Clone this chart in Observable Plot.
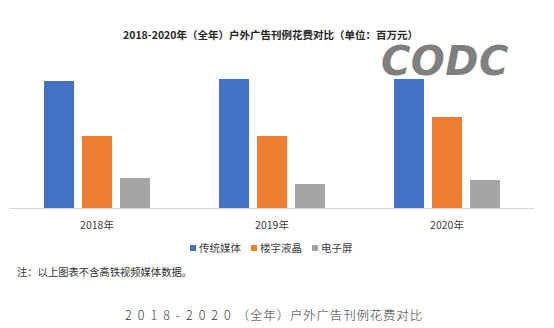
<!DOCTYPE html>
<html>
<head>
<meta charset="utf-8">
<script src="https://cdn.jsdelivr.net/npm/d3@7"></script>
<script src="https://cdn.jsdelivr.net/npm/@observablehq/plot@0.6"></script>
<style>
  body { margin: 0; background: #fff; }
  #wrap { position: relative; width: 554px; height: 328px; overflow: hidden; font-family: "Noto Sans CJK SC", "Noto Sans", sans-serif; }
  #chart { position: absolute; left: 0; top: 0; }
  .abs { position: absolute; white-space: nowrap; }
  #title { left: 0; width: 541px; top: 27px; text-align: center; font-size: 10.5px; font-weight: bold; color: #262626; }
  #logo { left: 381px; top: 41px; font-family: "DejaVu Sans", sans-serif; font-weight: bold; font-style: italic; font-size: 40px; color: #7f7f7f; letter-spacing: 0.5px; line-height: 1; }
  #legend { left: 190px; top: 240px; font-size: 10.5px; color: #404040; display: flex; align-items: center; }
  #legend span.sw { display: inline-block; width: 6px; height: 6px; margin-right: 3px; }
  #legend span.it { display: inline-flex; align-items: center; margin-right: 10px; }
  #note { left: 17px; top: 264px; font-size: 10.3px; color: #333; }
  #caption { left: 0; width: 548px; top: 305px; text-align: center; font-size: 12.5px; color: #3a3a3a; font-weight: 300; }
  #caption .d { letter-spacing: 6px; }
  #caption .c { letter-spacing: 0.8px; }
</style>
</head>
<body>
<div id="wrap">
  <div id="chart"></div>
  <div id="title" class="abs"></div>
  <div id="logo" class="abs">CODC</div>
  <div id="legend" class="abs"></div>
  <div id="note" class="abs"></div>
  <div id="caption" class="abs"></div>
</div>
<script>
const years = ["2018年", "2019年", "2020年"];
const seriesNames = ["传统媒体", "楼宇液晶", "电子屏"];
const traditional = [127, 129, 129];
const buildingLCD = [72, 72, 91];
const screens = [30, 24, 28];
const colors = ["#4472C4", "#ED7D31", "#A5A5A5"];
const titleText = "2018-2020年（全年）户外广告刊例花费对比（单位：百万元）";
const noteText = "注：以上图表不含高铁视频媒体数据。";
const captionDigits = "2018-2020";
const captionRest = "（全年）户外广告刊例花费对比";

const seriesValues = [traditional, buildingLCD, screens];
const data = [];
years.forEach((y, i) => {
  seriesNames.forEach((s, j) => {
    data.push({year: y, series: s, value: seriesValues[j][i]});
  });
});

const chart = Plot.plot({
  width: 554,
  height: 240,
  marginLeft: 8,
  marginRight: 19,
  marginTop: 68,
  marginBottom: 32,
  style: {fontFamily: "'Noto Sans CJK SC', sans-serif", fontSize: "10.5px", color: "#404040"},
  fx: {domain: years, padding: 0, label: null, axis: "bottom", tickSize: 0, tickPadding: 13},
  x: {domain: seriesNames, paddingInner: 0.22, paddingOuter: 0.86, axis: null},
  y: {domain: [0, 140], axis: null},
  color: {domain: seriesNames, range: colors},
  marks: [
    Plot.barY(data, {fx: "year", x: "series", y: "value", fill: "series"}),
    Plot.ruleY([0], {stroke: "#d9d9d9", strokeWidth: 1})
  ]
});
document.getElementById("chart").appendChild(chart);

document.getElementById("title").textContent = titleText;
document.getElementById("note").textContent = noteText;
const cap = document.getElementById("caption");
cap.innerHTML = `<span class="d">${captionDigits}</span><span class="c">${captionRest}</span>`;
const leg = document.getElementById("legend");
seriesNames.forEach((s, i) => {
  const it = document.createElement("span");
  it.className = "it";
  it.innerHTML = `<span class="sw" style="background:${colors[i]}"></span>${s}`;
  leg.appendChild(it);
});
</script>
</body>
</html>
